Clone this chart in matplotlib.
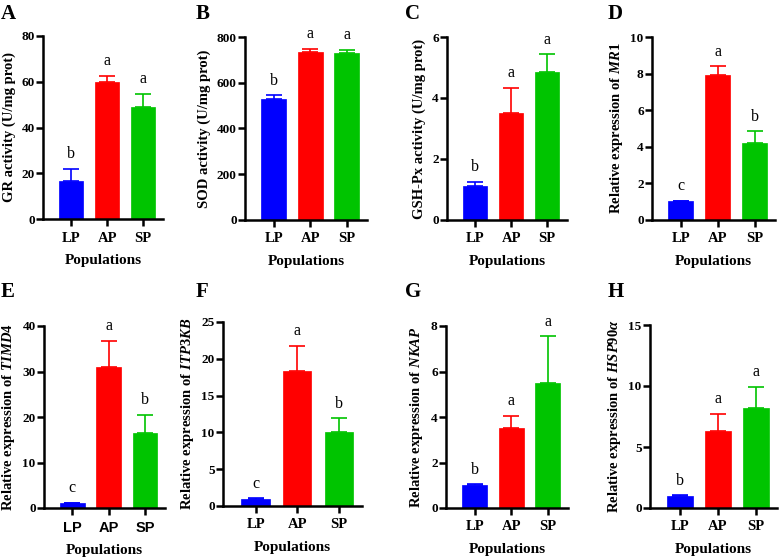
import matplotlib
matplotlib.use("Agg")
import matplotlib.pyplot as plt

plt.rcParams['font.family'] = ['Liberation Serif', 'DejaVu Serif']
plt.rcParams['font.weight'] = 'bold'
plt.rcParams['mathtext.fontset'] = 'custom'
plt.rcParams['mathtext.rm'] = 'Liberation Serif:bold'
plt.rcParams['mathtext.it'] = 'Liberation Serif:bold:italic'
plt.rcParams['mathtext.bf'] = 'Liberation Serif:bold'

populations = ['LP', 'AP', 'SP']
colors = ['#0000FF', '#FF0000', '#00C400']

panel_letters = ['A', 'B', 'C', 'D', 'E', 'F', 'G', 'H']
ylabels = [
    'GR activity (U/mg prot)',
    'SOD activity (U/mg prot)',
    'GSH-Px activity (U/mg prot)',
    r'$\mathrm{Relative\ expression\ of\ }\mathit{MR1}$',
    r'$\mathrm{Relative\ expression\ of\ }\mathit{TIMD4}$',
    r'$\mathrm{Relative\ expression\ of\ }\mathit{ITP3KB}$',
    r'$\mathrm{Relative\ expression\ of\ }\mathit{NKAP}$',
    r'$\mathrm{Relative\ expression\ of\ }\mathit{HSP90α}$',
]

means_A = [16.5, 59.7, 49.0]
errs_A = [5.5, 2.8, 5.8]
means_B = [530, 735, 728]
errs_B = [15, 13, 17]
means_C = [1.1, 3.5, 4.85]
errs_C = [0.15, 0.83, 0.58]
means_D = [1.02, 7.9, 4.22]
errs_D = [0.03, 0.5, 0.63]
means_E = [1.0, 31.0, 16.5]
errs_E = [0.1, 5.8, 4.0]
means_F = [1.0, 18.3, 10.0]
errs_F = [0.05, 3.5, 1.9]
means_G = [1.02, 3.5, 5.5]
errs_G = [0.02, 0.55, 2.05]
means_H = [1.0, 6.3, 8.2]
errs_H = [0.05, 1.4, 1.75]

sig_A = ['b', 'a', 'a']
sig_B = ['b', 'a', 'a']
sig_C = ['b', 'a', 'a']
sig_D = ['c', 'a', 'b']
sig_E = ['c', 'a', 'b']
sig_F = ['c', 'a', 'b']
sig_G = ['b', 'a', 'a']
sig_H = ['b', 'a', 'a']

yticks_A = [0, 20, 40, 60, 80]
yticks_B = [0, 200, 400, 600, 800]
yticks_C = [0, 2, 4, 6]
yticks_D = [0, 2, 4, 6, 8, 10]
yticks_E = [0, 10, 20, 30, 40]
yticks_F = [0, 5, 10, 15, 20, 25]
yticks_G = [0, 2, 4, 6, 8]
yticks_H = [0, 5, 10, 15]

means = [means_A, means_B, means_C, means_D, means_E, means_F, means_G, means_H]
errs = [errs_A, errs_B, errs_C, errs_D, errs_E, errs_F, errs_G, errs_H]
sigs = [sig_A, sig_B, sig_C, sig_D, sig_E, sig_F, sig_G, sig_H]
yticks = [yticks_A, yticks_B, yticks_C, yticks_D, yticks_E, yticks_F, yticks_G, yticks_H]

W, H = 780, 558
# axes boxes in pixels: left, right, top, bottom
boxes = [
    (43, 163, 36, 219),
    (245, 367, 37, 220),
    (447, 567, 37, 220),
    (652, 775, 37, 220),
    (44, 165, 326, 508),
    (223, 362, 322, 506),
    (446, 568, 326, 508),
    (650, 777, 325, 508),
]
letter_pos = [(1, 4), (196, 4), (405, 4), (608, 4), (1, 282), (196, 282), (405, 282), (608, 282)]

fig = plt.figure(figsize=(W / 100, H / 100), dpi=100)

for i in range(8):
    l, r, t, b = boxes[i]
    ax = fig.add_axes([l / W, 1 - b / H, (r - l) / W, (b - t) / H])
    x = range(3)
    ax.bar(x, means[i], width=0.68, color=colors, edgecolor=colors, linewidth=0.5, zorder=2)
    for j in range(3):
        ax.errorbar(j, means[i][j], yerr=[[0], [errs[i][j]]], fmt='none',
                    ecolor=colors[j], elinewidth=1.2, capsize=6, capthick=1.2, zorder=1)
    ymax = yticks[i][-1]
    ax.set_ylim(0, ymax)
    ax.set_xlim(-0.78, 2.55)
    ax.set_yticks(yticks[i])
    ax.set_xticks(list(x))
    ax.set_xticklabels(populations)
    for j in range(3):
        ax.text(j, means[i][j] + errs[i][j] + 0.08 * ymax, sigs[i][j], ha='center', va='center',
                fontsize=11.5, fontweight='normal', clip_on=False)
    for s in ['top', 'right']:
        ax.spines[s].set_visible(False)
    for s in ['left', 'bottom']:
        ax.spines[s].set_linewidth(1.8)
    ax.tick_params(axis='both', width=1.8, length=5, labelsize=10.5)
    ax.tick_params(axis='y', labelsize=9.5, pad=1)
    ax.tick_params(axis='x', pad=4)
    for lab in ax.get_yticklabels() + ax.get_xticklabels():
        lab.set_fontweight('bold')
    if i == 4:
        for lab in ax.get_xticklabels():
            lab.set_family('Liberation Sans')
    ax.set_ylabel(ylabels[i], fontsize=10.5, fontweight='bold', labelpad=4)
    ax.set_xlabel('Populations', fontsize=11, fontweight='bold', labelpad=7)
    fig.text(letter_pos[i][0] / W, 1 - letter_pos[i][1] / H, panel_letters[i], fontsize=15,
             fontweight='bold', ha='left', va='top')

fig.savefig('out.png', dpi=100)
